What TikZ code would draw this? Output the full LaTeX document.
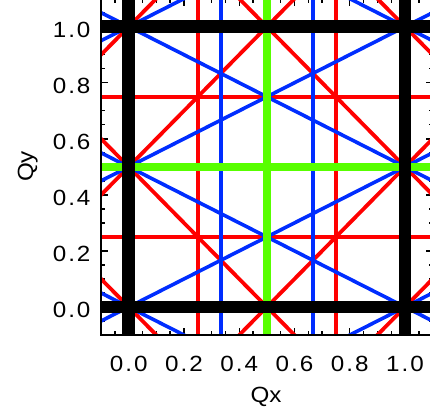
\documentclass[tikz,border=0pt]{standalone}
\usepackage{graphicx}
\usepackage{fontspec}
\setmainfont{Liberation Sans}
\definecolor{lred}{RGB}{255,0,0}
\definecolor{lblue}{RGB}{0,45,255}
\definecolor{lgreen}{RGB}{88,255,0}
\newcommand{\dlab}[2]{\scalebox{1.1}[1]{#1\kern1.8pt.\kern1.8pt#2}}
\tikzset{
  axisline/.style={line width=1.4pt,black},
  redline/.style={line width=3.8pt,lred},
  blueline/.style={line width=3.6pt,lblue},
  greenline/.style={line width=8pt,lgreen},
  blackline/.style={line width=12.5pt,black},
  lab/.style={inner sep=0pt,font=\fontsize{22}{26}\selectfont}
}
\begin{document}
\begin{tikzpicture}
\useasboundingbox (0pt,0pt) rectangle (430pt,414pt);
\begin{scope}[x=276.3pt,y=280.3pt,shift={(128.7pt,107pt)}]
  % ticks
  \foreach \i in {-1,...,21}{
    \pgfmathsetmacro\tx{\i*0.05}
    \pgfmathsetmacro\tlen{mod(\i+4,4)==0 ? 7 : 4}
    \draw[axisline] (\tx,-0.1) -- ++(0pt,\tlen pt);
    \draw[axisline] (\tx,1.1) -- ++(0pt,-\tlen pt);
    \draw[axisline] (-0.1,\tx) -- ++(\tlen pt,0pt);
    \draw[axisline] (1.1,\tx) -- ++(-\tlen pt,0pt);
  }
  \begin{scope}
    \clip (-0.1,-0.1) rectangle (1.1,1.1);
    % red lines
    \foreach \v in {0.25,0.75}{
      \draw[redline] (\v,-0.2) -- (\v,1.2);
      \draw[redline] (-0.2,\v) -- (1.2,\v);
    }
    \foreach \c in {0,0.5,1.5,2}{
      \draw[redline] (\c+0.2,-0.2) -- (\c-1.2,1.2);
    }
    \foreach \d in {-1,-0.5,0.5,1}{
      \draw[redline] (-0.2,\d-0.2) -- (1.2,\d+1.2);
    }
    % blue lines
    \foreach \v in {0.33333,0.66667}{
      \draw[blueline] (\v,-0.2) -- (\v,1.2);
    }
    \foreach \c in {-0.5,0,0.5,1}{
      \draw[blueline] (-0.2,\c-0.1) -- (1.2,\c+0.6);
    }
    \foreach \c in {0,0.5,1,1.5}{
      \draw[blueline] (-0.2,\c+0.1) -- (1.2,\c-0.6);
    }
    % green lines
    \draw[greenline] (0.5,-0.2) -- (0.5,1.2);
    \draw[greenline] (-0.2,0.5) -- (1.2,0.5);
    % black lines
    \foreach \v in {0,1}{
      \draw[blackline] (\v,-0.2) -- (\v,1.2);
      \draw[blackline] (-0.2,\v) -- (1.2,\v);
    }
  \end{scope}
  % frame
  \draw[axisline] (-0.1,-0.1) rectangle (1.1,1.1);
  % tick labels
  \foreach \v/\a/\b in {0/0/0,0.2/0/2,0.4/0/4,0.6/0/6,0.8/0/8,1/1/0}{
    \node[lab,anchor=base,yshift=-36.5pt] (xl\a\b) at (\v,-0.1) {\dlab{\a}{\b}};
    \node[lab,anchor=base east,xshift=-10.4pt,yshift=-10.5pt] (yl\a\b) at (-0.1,\v) {\dlab{\a}{\b}};
  }
\end{scope}
\node[lab,anchor=base] (qx) at (266pt,11pt) {\scalebox{1.1}[1]{Qx}};
\node[lab,anchor=base,rotate=90] (qy) at (33pt,247.5pt) {\scalebox{1.1}[1]{Qy}};
\end{tikzpicture}
\end{document}
